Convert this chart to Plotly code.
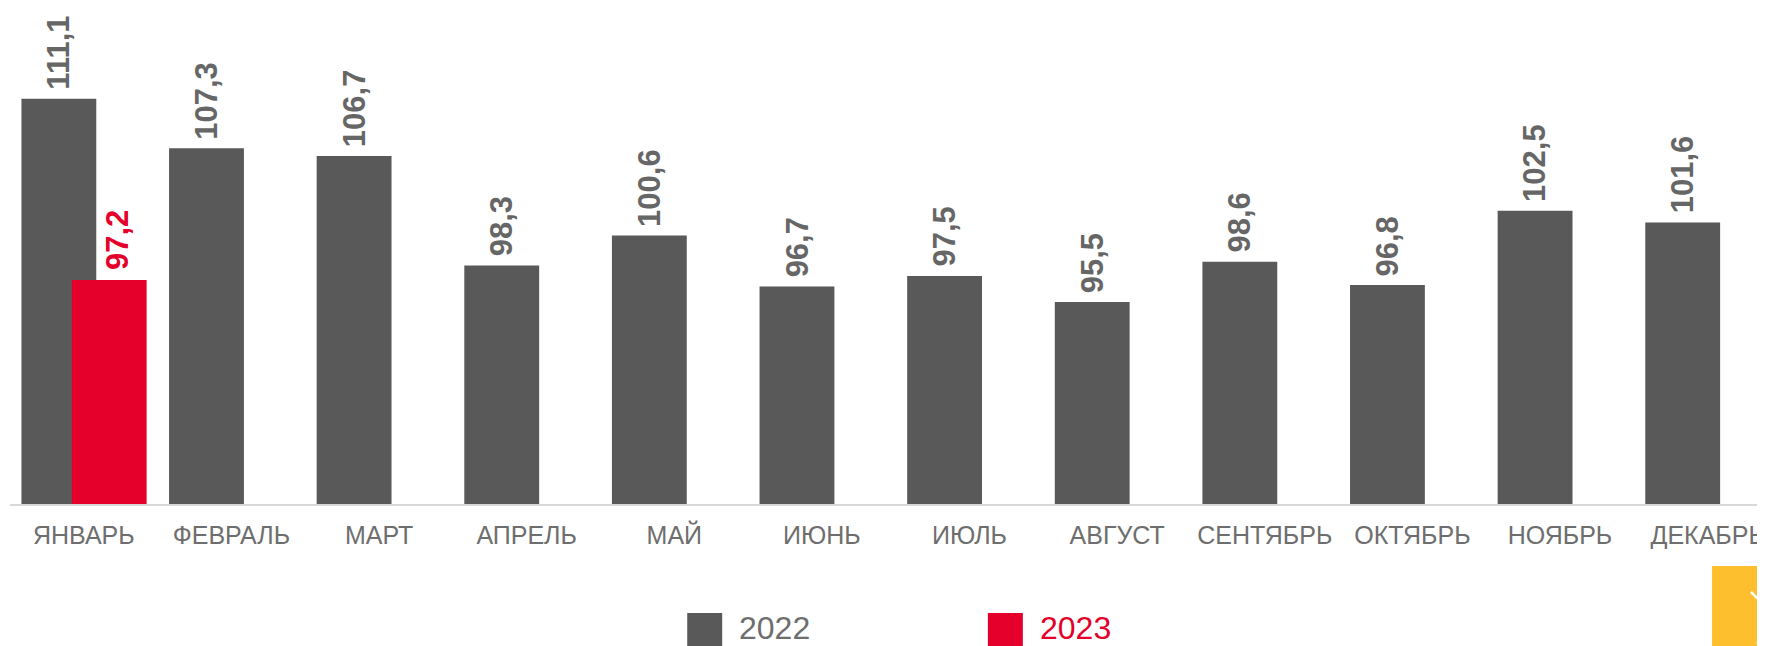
import plotly.graph_objects as go

months = ["ЯНВАРЬ", "ФЕВРАЛЬ", "МАРТ", "АПРЕЛЬ", "МАЙ", "ИЮНЬ", "ИЮЛЬ",
          "АВГУСТ", "СЕНТЯБРЬ", "ОКТЯБРЬ", "НОЯБРЬ", "ДЕКАБРЬ"]
values_2022 = [111.1, 107.3, 106.7, 98.3, 100.6, 96.7, 97.5, 95.5, 98.6, 96.8, 102.5, 101.6]
months_2023 = ["ЯНВАРЬ"]
values_2023 = [97.2]

GREY = "#595959"
RED = "#E4002B"
LABEL_GREY = "#666666"
TEXT_GREY = "#6e6e6e"
FONT = "Arial, Liberation Sans, sans-serif"

S = 8  # default page body margin
W, H = 1765 - S, 646 - S
ML, MR, MT, MB = 2, 0, 0, 142
PW, PH = W - ML - MR, H - MT - MB

bar_w = 0.507
off_22 = -0.169
off_23 = 0.172


def fmt(v):
    return f"{v:.1f}".replace(".", ",")


def px(x):
    return (x - S - ML) / PW


def py(y):
    return (H - MB - (y - S)) / PH


fig = go.Figure()
fig.add_trace(go.Bar(
    x=months, y=values_2022, name="2022",
    marker=dict(color=GREY, line=dict(width=0)),
    width=bar_w, offset=off_22 - bar_w / 2, showlegend=False,
))
fig.add_trace(go.Bar(
    x=months_2023, y=values_2023, name="2023",
    marker=dict(color=RED, line=dict(width=0)),
    width=bar_w, offset=off_23 - bar_w / 2, showlegend=False,
))

annotations = []
for i, v in enumerate(values_2022):
    annotations.append(dict(
        x=i + off_22, y=v, xref="x", yref="y", text=fmt(v), showarrow=False,
        textangle=-90, yanchor="bottom", xanchor="center", yshift=7,
        font=dict(family=FONT, size=31, color=LABEL_GREY, weight="bold"),
    ))
for m, v in zip(months_2023, values_2023):
    i = months.index(m)
    annotations.append(dict(
        x=i + off_23, y=v, xref="x", yref="y", text=fmt(v), showarrow=False,
        textangle=-90, yanchor="bottom", xanchor="center", yshift=8, xshift=9,
        font=dict(family=FONT, size=31, color=RED, weight="bold"),
    ))

# legend (drawn manually to match large swatches)
legend_items = [("2022", GREY, TEXT_GREY, 688), ("2023", RED, RED, 989)]
shapes = []
for name, col, tcol, x0 in legend_items:
    shapes.append(dict(type="rect", xref="paper", yref="paper",
                       x0=px(x0), x1=px(x0 + 35), y0=py(613), y1=py(650),
                       fillcolor=col, line=dict(width=0)))
    annotations.append(dict(
        x=px(x0 + 50), y=py(628), xref="paper", yref="paper", text=name,
        showarrow=False, xanchor="left", yanchor="middle",
        font=dict(family=FONT, size=32, color=tcol),
    ))

# yellow corner button
shapes.append(dict(type="rect", xref="paper", yref="paper",
                   x0=px(1714), x1=px(1770), y0=py(566), y1=py(650),
                   fillcolor="#FDBF2D", line=dict(width=0)))
shapes.append(dict(type="line", xref="paper", yref="paper",
                   x0=px(1753), y0=py(592), x1=px(1770), y1=py(609),
                   line=dict(color="white", width=2.5)))
shapes.append(dict(type="line", xref="paper", yref="paper",
                   x0=px(1759), y0=py(644), x1=px(1767), y1=py(636),
                   line=dict(color="white", width=2.5)))

fig.update_layout(
    width=W, height=H,
    margin=dict(l=ML, r=MR, t=MT, b=MB, pad=0),
    barmode="overlay",
    plot_bgcolor="white", paper_bgcolor="white",
    showlegend=False,
    annotations=annotations,
    shapes=shapes,
    font=dict(family=FONT),
)
fig.update_xaxes(
    type="category", categoryorder="array", categoryarray=months,
    range=[-0.5, 11.375],
    showline=True, linecolor="#d9d9d9", linewidth=2,
    showgrid=False, ticks="", zeroline=False,
    tickfont=dict(family=FONT, size=25, color=TEXT_GREY),
    ticklabelstandoff=8,
)
fig.update_yaxes(
    range=[80, 80 + PH / 13.03], visible=False, showgrid=False, zeroline=False,
)

fig.write_html("out.html")
